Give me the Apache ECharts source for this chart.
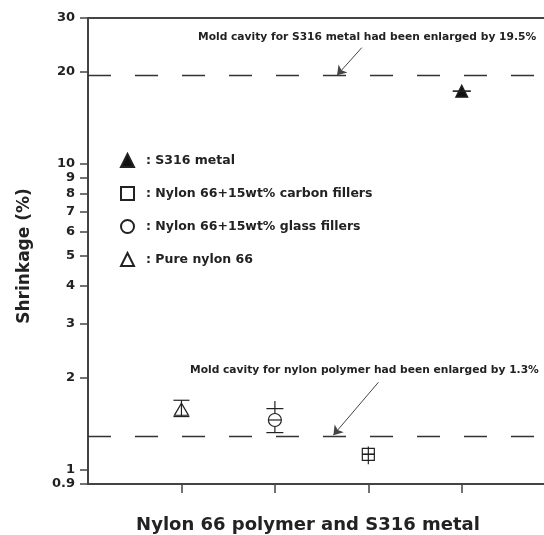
<!DOCTYPE html>
<html>
<head>
<meta charset="utf-8">
<script src="https://cdn.jsdelivr.net/npm/echarts@6/dist/echarts.min.js"></script>
<style>html,body{margin:0;padding:0;background:#fff}#c{width:544px;height:535px}</style>
</head>
<body>
<div id="c"></div>
<script>
// ---- data ----
const materials = ['Pure nylon 66', 'Nylon 66+15wt% glass fillers', 'Nylon 66+15wt% carbon fillers', 'S316 metal'];
const xPositions = [1, 2, 3, 4];
const shrinkage = [1.58, 1.457, 1.125, 17.3];
const whiskerLow = [1.495, 1.325, 1.044, 17.3];
const whiskerHigh = [1.69, 1.68, 1.193, 17.3];
const capLow = [1.495, 1.325, 1.125, 17.3];
const capHigh = [1.69, 1.587, 1.125, 17.3];
const legendOrder = ['S316 metal', 'Nylon 66+15wt% carbon fillers', 'Nylon 66+15wt% glass fillers', 'Pure nylon 66'];
const yTickValues = [0.9, 1, 2, 3, 4, 5, 6, 7, 8, 9, 10, 20, 30];
const xTickValues = [1, 2, 3, 4];
const moldLines = [19.5, 1.3];
const arrowFrom = [[2.93, 24.0], [3.108, 1.935]];
const arrowTo = [[2.665, 19.5], [2.626, 1.3]];
const annotations = ['Mold cavity for S316 metal had been enlarged by 19.5%', 'Mold cavity for nylon polymer had been enlarged by 1.3%'];
const xTitle = 'Nylon 66 polymer and S316 metal';
const yTitle = 'Shrinkage (%)';

// ---- styles ----
const FONT = 'DejaVu Sans';
const INK = '#222';
const L = Math.log10;
const symbols = ['triangle', 'circle', 'rect', 'triangle'];
const symbolSizes = [[14, 12], 13, 12, 12];
const fills = ['#fff', '#fff', 'rgba(0,0,0,0)', '#111'];
const capHalf = [8, 8.5, 6, 9];
const midHalf = [0, 6.5, 6, 0];
const whiskerGap = [0, 6.5, 0, 0];

const chart = echarts.init(document.getElementById('c'), null, {renderer: 'canvas'});

const scatterSeries = materials.map((m, i) => ({
  name: m,
  type: 'scatter',
  symbol: symbols[i],
  symbolSize: symbolSizes[i],
  z: 3,
  itemStyle: {color: fills[i], borderColor: INK, borderWidth: 1.2, opacity: 1},
  data: [[xPositions[i], L(shrinkage[i])]],
  silent: true
}));

// dashed mold lines
scatterSeries[3].markLine = {
  silent: true, symbol: 'none', animation: false,
  label: {show: false},
  lineStyle: {color: '#333', width: 1.3, type: [23, 24]},
  data: moldLines.map(v => ({yAxis: L(v)}))
};

const errorData = materials.map((m, i) => [xPositions[i], L(whiskerLow[i]), L(whiskerHigh[i]), L(capLow[i]), L(capHigh[i]), L(shrinkage[i])]);

const errorSeries = {
  type: 'custom',
  z: 4,
  silent: true,
  renderItem: function (params, api) {
    const i = params.dataIndex;
    const x = api.value(0);
    const wl = api.coord([x, api.value(1)]);
    const wh = api.coord([x, api.value(2)]);
    const cl = api.coord([x, api.value(3)]);
    const cu = api.coord([x, api.value(4)]);
    const c = api.coord([x, api.value(5)]);
    const st = {stroke: INK, lineWidth: 1.2};
    const ch = [];
    if (whiskerGap[i] > 0) {
      ch.push({type: 'line', shape: {x1: wh[0], y1: wh[1], x2: c[0], y2: c[1] - whiskerGap[i]}, style: st});
      ch.push({type: 'line', shape: {x1: c[0], y1: c[1] + whiskerGap[i], x2: wl[0], y2: wl[1]}, style: st});
    } else {
      ch.push({type: 'line', shape: {x1: wh[0], y1: wh[1], x2: wl[0], y2: wl[1]}, style: st});
    }
    ch.push({type: 'line', shape: {x1: cu[0] - capHalf[i], y1: cu[1], x2: cu[0] + capHalf[i], y2: cu[1]}, style: st});
    ch.push({type: 'line', shape: {x1: cl[0] - capHalf[i], y1: cl[1], x2: cl[0] + capHalf[i], y2: cl[1]}, style: st});
    if (midHalf[i] > 0) {
      ch.push({type: 'line', shape: {x1: c[0] - midHalf[i], y1: c[1], x2: c[0] + midHalf[i], y2: c[1]}, style: st});
    }
    return {type: 'group', children: ch};
  },
  data: errorData,
  markLine: {
    silent: true, animation: false,
    label: {show: false},
    lineStyle: {color: '#444', width: 1, type: 'solid'},
    symbolSize: 9,
    data: arrowFrom.map((p, k) => [
      {coord: [p[0], L(p[1])], symbol: 'none'},
      {coord: [arrowTo[k][0], L(arrowTo[k][1])], symbol: 'arrow'}
    ])
  }
};

const option = {
  animation: false,
  backgroundColor: '#fff',
  grid: {left: 88, top: 18, right: 0, bottom: 51, containLabel: false},
  legend: {
    data: legendOrder,
    orient: 'vertical',
    left: 120, top: 153, padding: 0,
    itemWidth: 13, itemHeight: 13, itemGap: 18,
    selectedMode: false,
    formatter: ': {name}',
    textStyle: {fontFamily: FONT, fontWeight: 'bold', fontSize: 12.5, color: INK, lineHeight: 13, padding: [0, 0, 0, 7]}
  },
  xAxis: [{
    type: 'value', min: 0, max: 4.88, position: 'bottom',
    axisLine: {show: true, onZero: false, lineStyle: {color: '#444', width: 2}},
    axisTick: {show: true, inside: false, length: 9, customValues: xTickValues, lineStyle: {color: '#444', width: 1.5}},
    axisLabel: {show: false},
    splitLine: {show: false}
  }, {
    type: 'value', min: 0, max: 4.88, position: 'top',
    axisLine: {show: true, onZero: false, lineStyle: {color: '#444', width: 2}},
    axisTick: {show: false}, axisLabel: {show: false}, splitLine: {show: false}
  }],
  yAxis: {
    type: 'value', min: L(0.9), max: L(30),
    axisLine: {show: true, onZero: false, lineStyle: {color: '#444', width: 2}},
    axisTick: {show: true, inside: false, length: 8, customValues: yTickValues.map(L), lineStyle: {color: '#444', width: 1.5}},
    axisLabel: {
      show: true, margin: 13, customValues: yTickValues.map(L),
      fontFamily: FONT, fontWeight: 'bold', fontSize: 13, color: INK,
      formatter: v => String(+Math.pow(10, v).toPrecision(3))
    },
    splitLine: {show: false}
  },
  graphic: [
    {type: 'text', left: 198, top: 32, style: {text: annotations[0], font: 'bold 10.7px "DejaVu Sans"', fill: INK}},
    {type: 'text', left: 190, top: 365, style: {text: annotations[1], font: 'bold 10.7px "DejaVu Sans"', fill: INK}},
    {type: 'text', x: 308, y: 525, style: {text: xTitle, font: 'bold 18px "DejaVu Sans"', fill: INK, align: 'center', verticalAlign: 'middle'}},
    {type: 'text', x: 25, y: 256, rotation: Math.PI / 2, style: {text: yTitle, font: 'bold 17px "DejaVu Sans"', fill: INK, align: 'center', verticalAlign: 'middle'}}
  ],
  series: scatterSeries.concat([errorSeries])
};
chart.setOption(option);
</script>
</body>
</html>
